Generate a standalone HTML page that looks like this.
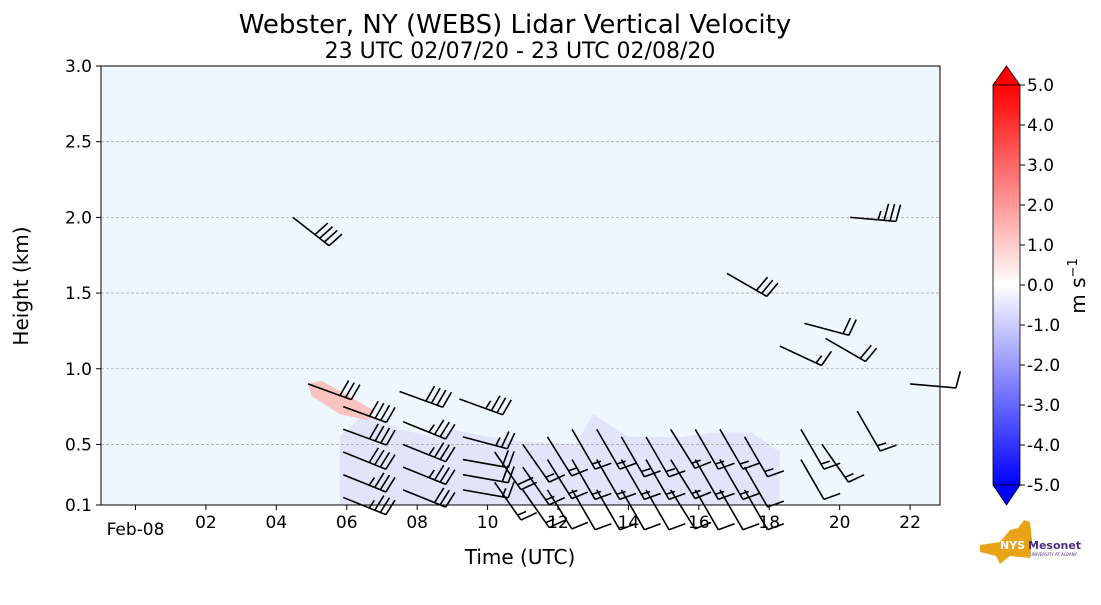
<!DOCTYPE html>
<html><head><meta charset="utf-8"><style>
body{margin:0;background:#fff;font-family:"Liberation Sans","DejaVu Sans",sans-serif}
</style></head><body>
<svg id="c" width="1101" height="600" xmlns="http://www.w3.org/2000/svg" font-family="DejaVu Sans, Liberation Sans, sans-serif">
<text x="515" y="33" font-size="26" text-anchor="middle">Webster, NY (WEBS) Lidar Vertical Velocity</text>
<text x="520" y="58" font-size="22" text-anchor="middle">23 UTC 02/07/20 - 23 UTC 02/08/20</text>
<rect x="101" y="66" width="839" height="439" fill="#eef6fe"/>
<g id="patches"></g><g id="grid"></g><g id="barbs"></g>
<rect x="101" y="66" width="839" height="439" fill="none" stroke="#000" stroke-width="1"/>
<g id="axes"></g>
<text x="520" y="564" font-size="20" text-anchor="middle">Time (UTC)</text>
<text transform="translate(28,286) rotate(-90)" font-size="20" text-anchor="middle">Height (km)</text>
<defs><linearGradient id="cg" x1="0" y1="0" x2="0" y2="1">
<stop offset="0" stop-color="#ff0000"/><stop offset="0.5" stop-color="#ffffff"/><stop offset="1" stop-color="#0000ff"/></linearGradient></defs>
<g>
<polygon points="993,85 1006.5,66 1020,85" fill="#ff0000" stroke="#000" stroke-width="0.8"/>
<rect x="993" y="85" width="27" height="400" fill="url(#cg)" stroke="#000" stroke-width="0.8"/>
<polygon points="993,485 1006.5,505 1020,485" fill="#0000ff" stroke="#000" stroke-width="0.8"/>
<g id="cbt"></g>
<text transform="translate(1085,286) rotate(-90)" font-size="20" text-anchor="middle">m s<tspan font-size="13" dy="-8">−1</tspan></text>
</g>
<g>
<polygon points="980,545 1000,542 1010,530 1018,528 1024,520 1030,522 1032,540 1030,558 1010,556 1000,564 996,556 980,552" fill="#e8a317"/>
<text x="1000" y="549" font-size="11" font-weight="bold" fill="#fff">NYS</text>
<text x="1028" y="549" font-size="11" font-weight="bold" fill="#4b2e83">Mesonet</text>
<text x="1030" y="556" font-size="4" fill="#4b2e83">UNIVERSITY AT ALBANY</text>
</g>
</svg>
<script>
const NS="http://www.w3.org/2000/svg";
const X0=101,X1=940,T0=-0.98,T1=22.85,Y0=505,Y1=66,H0=0.1,H1=3.0;
function xs(t){return X0+(t-T0)/(T1-T0)*(X1-X0);}
function ys(h){return Y0-(h-H0)/(H1-H0)*(Y0-Y1);}
function mk(tag,at,parent){const e=document.createElementNS(NS,tag);for(const k in at)e.setAttribute(k,at[k]);document.getElementById(parent).appendChild(e);return e;}
// axis data
const yTicks=[0.1,0.5,1.0,1.5,2.0,2.5,3.0];
const yLabels=["0.1","0.5","1.0","1.5","2.0","2.5","3.0"];
const xTicks=[0,2,4,6,8,10,12,14,16,18,20,22];
const xLabels=["Feb-08","02","04","06","08","10","12","14","16","18","20","22"];
const cbTicks=[5,4,3,2,1,0,-1,-2,-3,-4,-5];
// velocity patches (time, height polygons)
const blueT=[5.8,6.5,7.5,8.5,9.0,10.0,11.0,12.5,13.0,14.0,15.5,16.5,17.5,18.3,18.3,5.8];
const blueH=[0.55,0.7,0.6,0.55,0.6,0.55,0.52,0.5,0.7,0.55,0.55,0.58,0.58,0.45,0.1,0.1];
const pinkT=[4.9,5.3,6.2,6.8,6.6,5.8,5.0];
const pinkH=[0.9,0.92,0.8,0.72,0.66,0.7,0.82];
// wind barbs
const barbT=[4.47,20.3,16.8,18.3,19.0,19.6,22.0,20.5,
 4.9,5.9,5.9,5.9,5.9,5.9,7.5,7.6,7.6,7.6,7.6,9.2,9.3,9.3,9.3,9.3,10.2,10.2,
 11.0,11.0,11.0,11.7,11.7,11.7,12.4,12.4,12.4,13.1,13.1,13.1,13.8,13.8,13.8,14.5,14.5,14.5,15.2,15.2,15.2,15.9,15.9,15.9,16.6,16.6,16.6,17.3,17.3,17.3,18.9,18.9,19.5];
const barbH=[2.0,2.0,1.63,1.15,1.3,1.2,0.9,0.72,
 0.9,0.75,0.6,0.45,0.3,0.15,0.85,0.65,0.5,0.35,0.2,0.8,0.55,0.4,0.3,0.2,0.45,0.25,
 0.5,0.35,0.2,0.55,0.4,0.2,0.6,0.4,0.2,0.6,0.4,0.2,0.55,0.4,0.2,0.55,0.4,0.2,0.6,0.4,0.2,0.6,0.4,0.2,0.6,0.4,0.2,0.55,0.35,0.2,0.6,0.4,0.5];
const barbDir=[128,95,120,115,105,120,95,150,
 110,110,110,112,112,112,110,112,112,112,112,110,105,100,100,100,145,145,
 145,145,145,148,148,148,150,150,150,150,150,150,150,150,150,150,150,150,148,148,148,150,150,150,150,150,150,150,150,150,150,150,145];
const barbSpd=[40,35,30,15,20,20,10,15,
 30,40,40,40,35,35,40,35,35,35,30,35,25,20,20,15,20,15,
 15,15,15,15,15,10,15,15,10,15,15,10,15,15,10,15,15,10,15,15,10,15,15,10,15,15,10,15,10,10,15,10,15];
function poly(T,H,fill,name){const p=mk('polygon',{points:T.map((t,i)=>xs(t)+','+ys(H[i])).join(' '),fill:fill},'patches');

}
poly(blueT,blueH,'#e2e5fa','negative-velocity-region');
poly(pinkT,pinkH,'#f8c4c0','positive-velocity-region');
yTicks.forEach((v,i)=>{const y=ys(v);
 if(i>0&&i<yTicks.length-1){const g=mk('line',{x1:X0,x2:X1,y1:y,y2:y,stroke:'#aaa','stroke-dasharray':'3,2','stroke-width':0.8},'grid');
 
 }
 mk('line',{x1:X0-5,x2:X0,y1:y,y2:y,stroke:'#000'},'axes');
 const t=mk('text',{x:X0-9,y:y+6,'font-size':17,'text-anchor':'end'},'axes');t.textContent=yLabels[i];
 
 });
xTicks.forEach((v,i)=>{const x=xs(v);
 mk('line',{x1:x,x2:x,y1:Y0,y2:Y0+5,stroke:'#000'},'axes');
 const t=mk('text',{x:x,y:Y0+(i==0?30:23),'font-size':17,'text-anchor':'middle'},'axes');t.textContent=xLabels[i];
 
 });
cbTicks.forEach(v=>{const y=285-v*40;
 mk('line',{x1:1020,x2:1025,y1:y,y2:y,stroke:'#000'},'cbt');
 const t=mk('text',{x:1027,y:y+6,'font-size':17},'cbt');t.textContent=v.toFixed(1);
 
 });
barbT.forEach((t,i)=>{const x=xs(t),y=ys(barbH[i]),d=barbDir[i]*Math.PI/180,L=46;
 const ux=Math.sin(d),uy=-Math.cos(d);const ex=x+ux*L,ey=y+uy*L;
 const g=mk('g',{stroke:'#000','stroke-width':1.6,fill:'none'},'barbs');
 
 
 let s=`M${x},${y}L${ex},${ey}`;
 let px=uy,py=-ux; if(py>0){px=-px;py=-py;}
 let sp=barbSpd[i],k=0;
 while(sp>=10){const bx=ex-ux*k*6,by=ey-uy*k*6;s+=`M${bx},${by}l${px*17+ux*3},${py*17+uy*3}`;sp-=10;k++;}
 if(sp>=5){if(k==0)k=1;const bx=ex-ux*k*6,by=ey-uy*k*6;s+=`M${bx},${by}l${px*9+ux*2},${py*9+uy*2}`;}
 const p=document.createElementNS(NS,'path');p.setAttribute('d',s);g.appendChild(p);});
</script>
</body></html>
